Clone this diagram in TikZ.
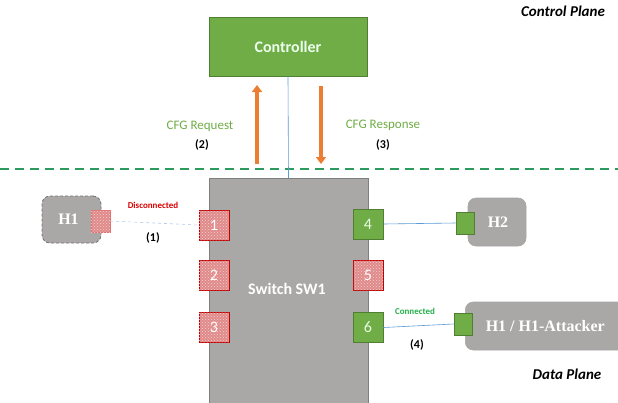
\documentclass[tikz,border=0pt]{standalone}
\usepackage{fontspec}
\setmainfont{Carlito}
\newfontfamily\serifbf{Liberation Serif}
\usetikzlibrary{arrows.meta,patterns}
\definecolor{ggreen}{HTML}{70AD47}
\definecolor{gborder}{HTML}{507E32}
\definecolor{rfill}{HTML}{E08A8A}
\definecolor{rborder}{HTML}{C00000}
\definecolor{sgray}{HTML}{AAA7A7}
\definecolor{sborder}{HTML}{7F7F7F}
\definecolor{dgreen}{HTML}{2E9B5E}
\definecolor{lblue}{HTML}{5B9BD5}
\definecolor{orng}{HTML}{ED7D31}
\begin{document}
\begin{tikzpicture}[x=1pt,y=-1pt,
  greenport/.style={draw=gborder,fill=ggreen,line width=0.8pt,minimum width=30pt,minimum height=30pt,inner sep=0pt,text=white!90!green,font=\fontsize{16}{16}\selectfont},
  redport/.style={draw=rborder,fill=rfill,line width=0.8pt,minimum width=30pt,minimum height=30pt,inner sep=0pt,text=white,font=\fontsize{16}{16}\selectfont,postaction={pattern=crosshatch dots,pattern color=white!60!rfill}},
  hostbox/.style={draw=sborder!70,fill=sgray,rounded corners=8pt,line width=0.6pt,inner sep=0pt,text=white,font=\serifbf\bfseries\fontsize{16}{16}\selectfont},
  smallg/.style={draw=gborder,fill=ggreen,line width=0.8pt,minimum width=18pt,minimum height=22pt,inner sep=0pt},
  link/.style={draw=lblue,line width=0.6pt},
  bigarrow/.style={draw=orng,line width=4pt,-{Triangle[length=7pt,width=10pt]}},
  lbl/.style={font=\bfseries\fontsize{12}{12}\selectfont,text=black},
  cfg/.style={font=\fontsize{13}{13}\selectfont,text=ggreen}
]
\useasboundingbox[fill=white] (0,0) rectangle (618,402);
% plane separator
\draw[dgreen,line width=2pt,dash pattern=on 9pt off 6pt] (0,169) -- (618,169);
\node[font=\bfseries\itshape\fontsize{15}{15}\selectfont] (cp) at (563,11) {Control Plane};
\node[font=\bfseries\itshape\fontsize{15}{15}\selectfont] (dp) at (567,374) {Data Plane};
% controller
\node[draw=gborder,fill=ggreen,minimum width=158pt,minimum height=59pt,inner sep=0pt,text=white!92!green,font=\bfseries\fontsize{16}{16}\selectfont] (ctrl) at (288,46.5) {Controller};
% switch
\node[draw=sborder,fill=sgray,minimum width=159pt,minimum height=230pt,inner sep=0pt,anchor=north] (sw) at (288.5,178) {};
\node[text=white,font=\bfseries\fontsize{16}{16}\selectfont] (swl) at (287,289) {Switch SW1};
\draw[link] (ctrl.south) -- (sw.north);
% arrows
\coordinate (upS) at (257,164); \coordinate (upE) at (257,85);
\coordinate (dnS) at (321,86); \coordinate (dnE) at (321,164);
\draw[bigarrow] (upS) -- (upE);
\draw[bigarrow] (dnS) -- (dnE);
\node[cfg] (req) at (200,126) {CFG Request};
\node[lbl] (n2) at (202,145) {(2)};
\node[cfg] (resp) at (383,125) {CFG Response};
\node[lbl] (n3) at (383,145) {(3)};
% ports
\node[redport] (p1) at (214,225) {1};
\node[redport] (p2) at (214,275) {2};
\node[redport] (p3) at (214,327.5) {3};
\node[greenport] (p4) at (368,224) {4};
\node[redport] (p5) at (368,275) {5};
\node[greenport] (p6) at (368,327.5) {6};
% hosts
\node[hostbox,minimum width=58pt,minimum height=48pt] (h2) at (497,222) {\hspace*{2pt}H2};
\node[smallg] (h2p) at (465,223) {};
\node[hostbox,minimum width=160pt,minimum height=48pt,anchor=west] (h1a) at (465,326) {\hspace*{6pt}H1 / H1-Attacker\hspace*{6pt}};
\node[smallg] (h1ap) at (463,324) {};
\node[hostbox,draw=sborder!90!black,line width=0.8pt,dash pattern=on 3pt off 2pt,minimum width=59pt,minimum height=47pt] (h1) at (71.5,219.5) {\hspace*{-6pt}H1};
\node[draw=rfill!80!red,fill=rfill,minimum width=19pt,minimum height=22pt,inner sep=0pt,postaction={pattern=crosshatch dots,pattern color=white!60!rfill}] (h1p) at (100.5,221) {};
% links
\draw[link,lblue!50,dashed] (h1p.east) -- (p1.west);
\draw[link] (p4.east) -- (h2p.west);
\draw[link] (p6.east) -- (h1ap.west);
\node[font=\bfseries\fontsize{9}{9}\selectfont,text=red!85!black] (disc) at (153,205) {Disconnected};
\node[lbl] (n1) at (153,238) {(1)};
\node[font=\bfseries\fontsize{9}{9}\selectfont,text=dgreen!80!green] (conn) at (415,311) {Connected};
\node[lbl] (n4) at (417,345) {(4)};
\end{tikzpicture}
\end{document}
